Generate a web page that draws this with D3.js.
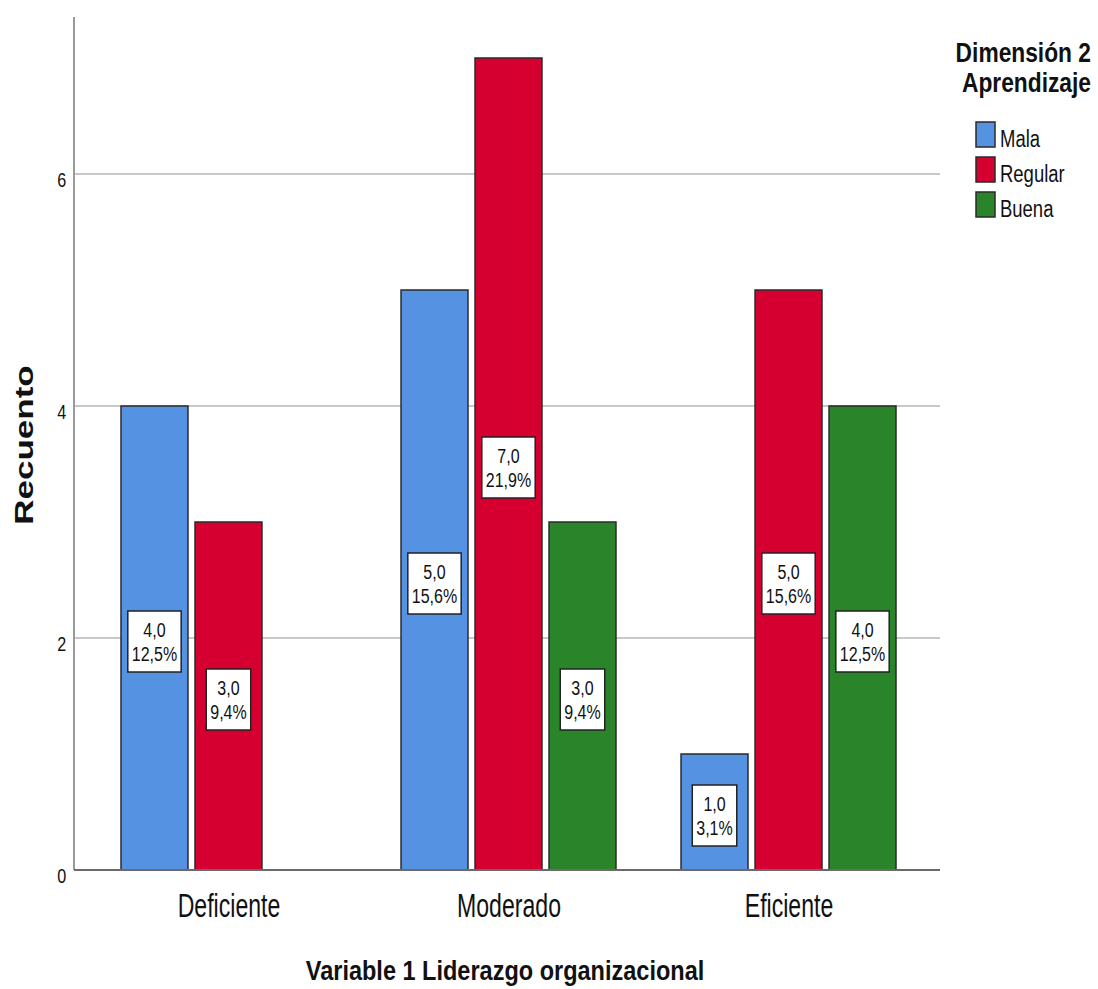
<!DOCTYPE html>
<html>
<head>
<meta charset="utf-8">
<script src="https://cdn.jsdelivr.net/npm/d3@7"></script>
<style>
  html, body { margin: 0; padding: 0; background: #fff; }
  svg { display: block; }
  text { font-family: "Liberation Sans", Arial, sans-serif; fill: #111; }
</style>
</head>
<body>
<script>
// Counts per leadership level, split by learning-dimension rating
const categories = ["Deficiente", "Moderado", "Eficiente"];
const series = ["Mala", "Regular", "Buena"];
const mala    = [4, 5, 1];
const regular = [3, 7, 5];
const buena   = [0, 3, 4];
const percents = {
  Mala:    ["12,5%", "15,6%", "3,1%"],
  Regular: ["9,4%", "21,9%", "15,6%"],
  Buena:   ["", "9,4%", "12,5%"]
};
const yTicks = [0, 2, 4, 6];
const colors = ["#5592e2", "#d5002f", "#2a852a"];
const legendTitle = ["Dimensión 2", "Aprendizaje"];

const values = { Mala: mala, Regular: regular, Buena: buena };
const rows = [];
categories.forEach((c, i) => {
  series.forEach(s => {
    if (values[s][i] > 0) rows.push({ cat: c, s, v: values[s][i], pct: percents[s][i] });
  });
});

const W = 1098, H = 989;
const plotL = 74, plotR = 940, plotT = 17, plotB = 870;

const svg = d3.select("body").append("svg").attr("width", W).attr("height", H);

// Condensed text: draw at (x, y) with horizontal squeeze sx
function label(parent, x, y, str, size, sx, opts = {}) {
  const g = parent.append("g").attr("transform", `translate(${x},${y}) scale(${sx},1)`);
  const t = g.append("text").attr("font-size", size)
    .attr("text-anchor", opts.anchor || "start")
    .attr("font-weight", opts.bold ? "bold" : null)
    .text(str);
  return t;
}

const x = d3.scalePoint().domain(categories).range([77, plotR]).padding(0.541);
const xs = d3.scaleBand().domain(series).range([-111, 111]).paddingInner(0.095).paddingOuter(0.0475);
const y = d3.scaleLinear().domain([0, (plotB - plotT) / 116]).range([plotB, plotT]);
const color = d3.scaleOrdinal().domain(series).range(colors);

// Gridlines
svg.append("g").selectAll("line").data(yTicks.filter(t => t > 0)).join("line")
  .attr("x1", plotL).attr("x2", plotR)
  .attr("y1", d => y(d)).attr("y2", d => y(d))
  .attr("stroke", "#c8c8c8").attr("stroke-width", 2);

// Y axis
const yAxis = svg.append("g").attr("transform", `translate(${plotL},0)`)
  .call(d3.axisLeft(y).tickValues(yTicks).tickSize(0).tickPadding(10).tickFormat(d3.format("d")));
yAxis.select(".domain").remove();
yAxis.selectAll("text").attr("font-size", 21).attr("dy", "0.58em")
  .attr("transform", "scale(0.77,1)");
svg.append("line").attr("x1", plotL).attr("x2", plotL).attr("y1", plotT).attr("y2", plotB)
  .attr("stroke", "#9a9a9a").attr("stroke-width", 2);

// Bars
svg.append("g").selectAll("rect").data(rows).join("rect")
  .attr("x", d => x(d.cat) + xs(d.s))
  .attr("width", xs.bandwidth())
  .attr("y", d => y(d.v))
  .attr("height", d => y(0) - y(d.v))
  .attr("fill", d => color(d.s))
  .attr("stroke", "#2a2a2a").attr("stroke-width", 1.5);

// X axis
const xAxis = svg.append("g").attr("transform", `translate(0,${plotB})`)
  .call(d3.axisBottom(x).tickSize(0).tickPadding(0));
xAxis.select(".domain").remove();
xAxis.selectAll("text").attr("font-size", 33).attr("dy", null).attr("y", 47)
  .attr("transform", "scale(0.7,1)");
svg.append("line").attr("x1", plotL).attr("x2", plotR).attr("y1", plotB).attr("y2", plotB)
  .attr("stroke", "#6a6a6a").attr("stroke-width", 2);

// Value labels inside bars
const lab = svg.append("g").selectAll("g").data(rows).join("g")
  .attr("transform", d => `translate(${x(d.cat) + xs(d.s) + xs.bandwidth() / 2},${y(d.v / 2) + 3.5})`);
lab.each(function (d) {
  const g = d3.select(this);
  const sx = 0.8;
  const inner = g.append("g").attr("transform", `scale(${sx},1)`);
  const t1 = inner.append("text").attr("text-anchor", "middle").attr("font-size", 20).attr("y", -4.5)
    .text(d3.format(".1f")(d.v).replace(".", ","));
  const t2 = inner.append("text").attr("text-anchor", "middle").attr("font-size", 20).attr("y", 19.5)
    .text(d.pct);
  const w = Math.max(t1.node().getComputedTextLength(), t2.node().getComputedTextLength()) * sx + 8;
  g.insert("rect", "g").attr("x", -w / 2).attr("y", -30.5).attr("width", w).attr("height", 61)
    .attr("fill", "#fff").attr("stroke", "#222").attr("stroke-width", 1.5);
});

// Axis titles
svg.append("text").attr("transform", `translate(33,445) rotate(-90) scale(1.4,1)`)
  .attr("text-anchor", "middle").attr("font-size", 25).attr("font-weight", "bold").text("Recuento");
label(svg, 505, 980, "Variable 1 Liderazgo organizacional", 28, 0.84, { anchor: "middle", bold: true });

// Legend title, two stacked lines
legendTitle.forEach((t, i) => label(svg, 1091, 62 + i * 30, t, 26.8, 0.85, { anchor: "end", bold: true }));

const items = svg.append("g").selectAll("g.item").data(series).join("g").attr("class", "item")
  .attr("transform", (d, i) => `translate(976,${122 + i * 35})`);
items.append("rect").attr("width", 19).attr("height", 25).attr("fill", d => color(d))
  .attr("stroke", "#2a2a2a").attr("stroke-width", 1.5);
items.each(function (d) { label(d3.select(this), 24, 25, d, 24, 0.77); });
</script>
</body>
</html>
